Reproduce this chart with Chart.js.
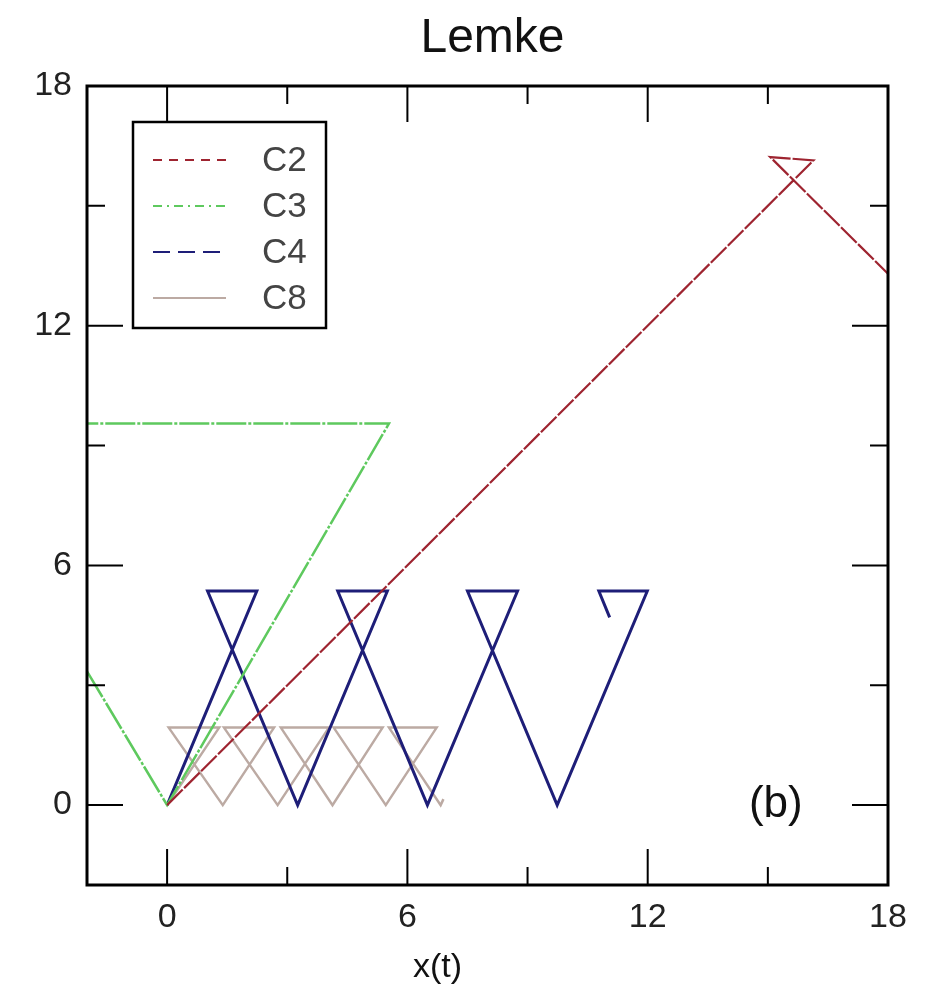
<!DOCTYPE html>
<html>
<head>
<meta charset="utf-8">
<script src="https://cdn.jsdelivr.net/npm/chart.js@4.4.1/dist/chart.umd.min.js"></script>
<style>
  body { margin: 0; background: #fff; }
  canvas { display: block; }
</style>
</head>
<body>
<canvas id="lemkeChart" width="936" height="986"></canvas>
<script>
const seriesNames = ['C2', 'C3', 'C4', 'C8'];

// trajectories
const c2X = [0, 16.14, 15.06, 18];
const c2Y = [0, 16.14, 16.22, 13.3];
const c3X = [-2, 0, 5.54, -2];
const c3Y = [3.35, 0, 9.55, 9.55];
const c4X = [0, 2.24, 1.01, 3.26, 5.5, 4.26, 6.5, 8.75, 7.5, 9.74, 11.99, 10.78, 11.05];
const c4Y = [0, 5.36, 5.36, 0, 5.36, 5.36, 0, 5.36, 5.36, 0, 5.36, 5.36, 4.7];
const c8X = [0, 1.3, 0.04, 1.39, 2.67, 1.42, 2.76, 4.04, 2.84, 4.13, 5.38, 4.16, 5.46, 6.73, 5.54, 6.83, 6.9];
const c8Y = [0, 1.94, 1.94, 0, 1.94, 1.94, 0, 1.94, 1.94, 0, 1.94, 1.94, 0, 1.94, 1.94, 0, 0.15];

const majorTicks = [0, 6, 12, 18];
const minorTicks = [3, 9, 15];

const colors = ['#9e2430', '#5ec95e', '#1e1e78', '#bcaaa3'];
const legendDash = [[9, 7], [9, 5, 2, 5], [17, 8], []];

function toPoints(xs, ys) {
    return xs.map((x, i) => ({ x: x, y: ys[i] }));
}

const allSeries = [toPoints(c2X, c2Y), toPoints(c3X, c3Y), toPoints(c4X, c4Y), toPoints(c8X, c8Y)];
const lineWidths = [2.2, 2.5, 3, 2.5];
const plotDash = [[22, 2], [30, 2, 3, 2], [], []];

const decorPlugin = {
    id: 'decor',
    afterDatasetsDraw(chart) {
        const ctx = chart.ctx;
        const area = chart.chartArea;
        const xs = chart.scales.x;
        const ys = chart.scales.y;
        ctx.save();

        // frame
        ctx.strokeStyle = '#000';
        ctx.lineWidth = 3;
        ctx.strokeRect(area.left, area.top, area.right - area.left, area.bottom - area.top);

        // inward tick marks on all four sides
        ctx.lineWidth = 2;
        const marks = majorTicks.map(v => [v, 36]).concat(minorTicks.map(v => [v, 18]));
        marks.forEach(([v, len]) => {
            const px = xs.getPixelForValue(v);
            const py = ys.getPixelForValue(v);
            ctx.beginPath();
            ctx.moveTo(px, area.bottom); ctx.lineTo(px, area.bottom - len);
            ctx.moveTo(px, area.top); ctx.lineTo(px, area.top + len);
            ctx.moveTo(area.left, py); ctx.lineTo(area.left + len, py);
            ctx.moveTo(area.right, py); ctx.lineTo(area.right - len, py);
            ctx.stroke();
        });

        // title and axis label
        ctx.fillStyle = '#111';
        ctx.textAlign = 'center';
        ctx.textBaseline = 'middle';
        ctx.font = '48px "Liberation Sans", Arial, sans-serif';
        ctx.fillText('Lemke', (area.left + area.right) / 2 + 5, 39);
        ctx.font = '34px "Liberation Sans", Arial, sans-serif';
        ctx.fillText('x(t)', xs.getPixelForValue(6.75), 968);

        // panel tag
        ctx.font = '44px "Liberation Sans", Arial, sans-serif';
        ctx.fillText('(b)', xs.getPixelForValue(15.2), ys.getPixelForValue(0));

        // legend box
        const bx = area.left + 46, by = area.top + 36, bw = 193, bh = 206;
        ctx.fillStyle = '#fff';
        ctx.fillRect(bx, by, bw, bh);
        ctx.strokeStyle = '#000';
        ctx.lineWidth = 2.5;
        ctx.strokeRect(bx, by, bw, bh);
        ctx.font = '35px "Liberation Sans", Arial, sans-serif';
        ctx.textAlign = 'left';
        seriesNames.forEach((name, i) => {
            const y = by + 38 + i * 46;
            ctx.strokeStyle = colors[i];
            ctx.lineWidth = 2;
            ctx.setLineDash(legendDash[i]);
            ctx.beginPath();
            ctx.moveTo(bx + 20, y);
            ctx.lineTo(bx + 93, y);
            ctx.stroke();
            ctx.setLineDash([]);
            ctx.fillStyle = '#444';
            ctx.fillText(name, bx + 129, y + 1);
        });
        ctx.restore();
    }
};

const tickFont = { family: '"Liberation Sans", Arial, sans-serif', size: 34 };

new Chart(document.getElementById('lemkeChart'), {
    type: 'scatter',
    data: {
        datasets: seriesNames.map((name, i) => ({
            label: name,
            data: allSeries[i],
            showLine: true,
            borderColor: colors[i],
            backgroundColor: colors[i],
            borderWidth: lineWidths[i],
            borderDash: plotDash[i],
            pointRadius: 0,
            tension: 0
        }))
    },
    options: {
        responsive: false,
        animation: false,
        devicePixelRatio: 1,
        layout: { padding: { top: 86, right: 48, left: 0, bottom: 0 } },
        plugins: {
            legend: { display: false },
            title: { display: false },
            tooltip: { enabled: false }
        },
        scales: {
            x: {
                type: 'linear',
                min: -2,
                max: 18,
                grid: { display: false, drawTicks: false },
                border: { display: false },
                afterBuildTicks: scale => { scale.ticks = majorTicks.map(v => ({ value: v })); },
                afterFit: scale => { scale.height = 101; },
                ticks: { font: tickFont, color: '#222', padding: 12, maxRotation: 0 }
            },
            y: {
                type: 'linear',
                min: -2,
                max: 18,
                grid: { display: false, drawTicks: false },
                border: { display: false },
                afterBuildTicks: scale => { scale.ticks = majorTicks.map(v => ({ value: v })); },
                afterFit: scale => { scale.width = 87; },
                ticks: { font: tickFont, color: '#222', padding: 15 }
            }
        }
    },
    plugins: [decorPlugin]
});
</script>
</body>
</html>
